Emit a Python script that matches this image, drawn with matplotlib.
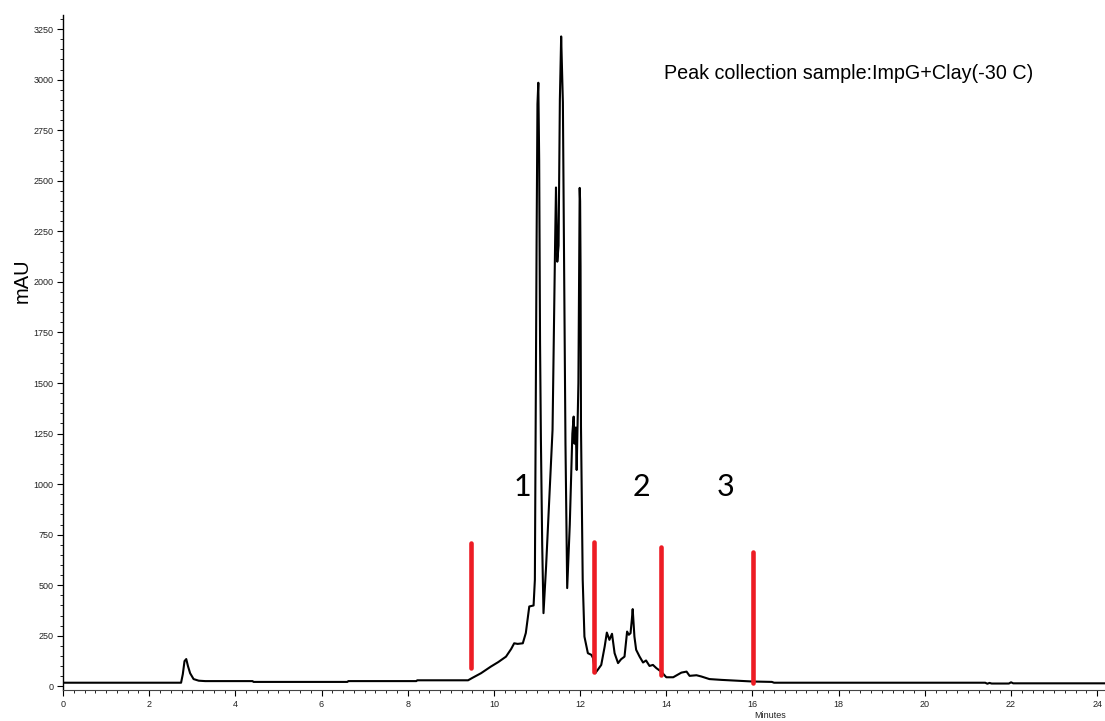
import numpy as np
import matplotlib
matplotlib.use('Agg')
import matplotlib.pyplot as plt
from matplotlib.ticker import MultipleLocator

plt.rcParams['font.family'] = ['Liberation Sans', 'DejaVu Sans']

# chromatogram trace (minutes, mAU)
t_min = [0.0, 2.74, 2.78, 2.82, 2.86, 2.90, 2.95, 3.03, 3.15, 3.30, 4.40, 4.42,
         6.60, 6.62, 8.20, 8.22, 9.40, 9.50, 9.70, 9.93, 10.10, 10.28, 10.40,
         10.47, 10.55, 10.67, 10.74, 10.82, 10.92, 10.95, 10.99, 11.01, 11.03,
         11.05, 11.07, 11.09, 11.12, 11.15, 11.21, 11.36, 11.42, 11.44, 11.47,
         11.50, 11.53, 11.56, 11.58, 11.60, 11.63, 11.66, 11.70, 11.76, 11.82,
         11.85, 11.87, 11.90, 11.92, 11.96, 11.99, 12.00, 12.01, 12.02, 12.06,
         12.10, 12.18, 12.26, 12.30, 12.35, 12.42, 12.49, 12.57, 12.62, 12.68,
         12.74, 12.80, 12.88, 12.95, 13.03, 13.09, 13.13, 13.17, 13.20, 13.22,
         13.26, 13.30, 13.38, 13.46, 13.53, 13.61, 13.69, 13.77, 13.88, 14.00,
         14.16, 14.35, 14.47, 14.54, 14.70, 14.81, 15.00, 15.28, 16.00, 16.45,
         16.50, 21.40, 21.45, 21.50, 21.55, 21.95, 22.00, 22.05, 24.2]
mau = [18, 18, 60, 125, 135, 100, 65, 36, 28, 26, 26, 22,
       22, 26, 26, 30, 30, 42, 65, 98, 120, 147, 185,
       213, 210, 213, 264, 395, 400, 527, 2200, 2880, 2985,
       2600, 1700, 1220, 700, 362, 592, 1268, 2200, 2467, 2100,
       2180, 2900, 3214, 3050, 2888, 2035, 1200, 486, 800, 1250,
       1334, 1200, 1280, 1070, 1500, 2465, 2400, 2076, 1285, 527,
       246, 164, 156, 140, 65, 85, 106, 197, 266, 230,
       260, 164, 115, 134, 147, 271, 255, 263, 330, 382,
       246, 181, 147, 118, 128, 101, 106, 90, 73, 45,
       45, 68, 73, 52, 55, 49, 36, 32, 24, 22,
       18, 18, 13, 17, 14, 14, 20, 15, 15]

# fraction cut markers (red bars)
cut_x = [9.47, 12.33, 13.88, 16.01]
cut_top = [708, 716, 691, 662]
cut_bottom = [90, 73, 57, 19]

# fraction numbers
frac_labels = ['1', '2', '3']
frac_x = [10.65, 13.42, 15.37]
frac_y = [985, 985, 985]

fig = plt.figure(figsize=(11.05, 7.21), dpi=100)
ax = fig.add_axes([63/1105, 31/721, 1042/1105, 675/721])

ax.plot(t_min, mau, color='black', linewidth=1.5)

for x, y0, y1 in zip(cut_x, cut_bottom, cut_top):
    ax.plot([x, x], [y0, y1], color='#ED1C24', linewidth=3.3, solid_capstyle='round')

for lab, x, y in zip(frac_labels, frac_x, frac_y):
    ax.text(x, y, lab, fontsize=22, ha='center', va='center', family=['Lato', 'DejaVu Sans'])

ax.text(13.95, 3033, 'Peak collection sample:ImpG+Clay(-30 C)', fontsize=14.2,
        ha='left', va='center')

ax.set_xlim(0, 24.18)
ax.set_ylim(-18, 3320)

ax.xaxis.set_major_locator(MultipleLocator(2))
ax.xaxis.set_minor_locator(MultipleLocator(0.25))
ax.yaxis.set_major_locator(MultipleLocator(250))
ax.yaxis.set_minor_locator(MultipleLocator(50))

ax.tick_params(axis='both', which='major', labelsize=6.5, labelcolor='#222222',
               length=4, width=0.8, direction='out', pad=3)
ax.tick_params(axis='both', which='minor', length=2.5, width=0.6, direction='out')

for s in ['top', 'right']:
    ax.spines[s].set_visible(False)
ax.spines['left'].set_linewidth(1.0)
ax.spines['bottom'].set_linewidth(0.8)
ax.spines['bottom'].set_color('#444444')

ax.set_xlabel('Minutes', fontsize=6.5, va='center', color='#222222')
ax.xaxis.set_label_coords(0.6785, -0.0385)
ax.set_ylabel('mAU', fontsize=14.5, va='center')
ax.yaxis.set_label_coords(-0.0393, 0.607)

plt.savefig('out.png', dpi=100)
